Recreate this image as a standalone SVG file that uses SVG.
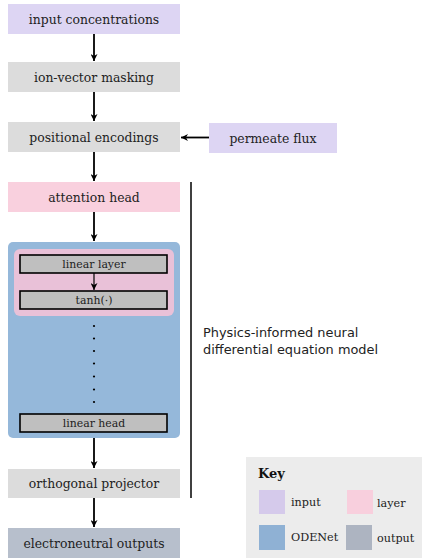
<svg xmlns="http://www.w3.org/2000/svg" width="422" height="558" viewBox="0 0 422 558">
<defs>
<marker id="ah" viewBox="0 0 10 10" refX="10" refY="5" markerWidth="7" markerHeight="7" markerUnits="userSpaceOnUse" orient="auto">
<path d="M0,0 L10,5 L0,10 L3,5 z" fill="#000"/>
</marker>
<style>
.t{font-family:"DejaVu Serif","Liberation Serif",serif;font-size:12.4px;fill:#222;text-anchor:middle}
.s{font-family:"DejaVu Serif","Liberation Serif",serif;font-size:10.9px;fill:#222;text-anchor:middle}
.k{font-family:"DejaVu Serif","Liberation Serif",serif;font-size:11.2px;fill:#222}
.c{stroke:#000;stroke-width:1.8;fill:none;marker-end:url(#ah)}
.in{fill:#ddd5f3}
.gr{fill:#dcdcdc}
.pk{fill:#f9d0de}
.ot{fill:#b7bfcc}
.ib{fill:#bfbfbf;stroke:#000;stroke-width:1.6}
</style>
</defs>
<rect width="422" height="558" fill="#fff"/>
<g id="input-concentrations"><rect class="in" x="8" y="4" width="172" height="30"/><text class="t" x="94" y="23.5">input concentrations</text></g>
<g id="ion-vector-masking"><rect class="gr" x="8" y="62" width="172" height="30"/><text class="t" x="94" y="81.5">ion-vector masking</text></g>
<g id="positional-encodings"><rect class="gr" x="8" y="122" width="172" height="30"/><text class="t" x="94" y="141.5">positional encodings</text></g>
<g id="permeate-flux"><rect class="in" x="209" y="123" width="128" height="30"/><text class="t" x="273" y="142.5">permeate flux</text></g>
<g id="attention-head"><rect class="pk" x="8" y="182" width="172" height="30"/><text class="t" x="94" y="201.5">attention head</text></g>
<g id="odenet">
<rect x="8" y="242" width="172" height="196" rx="5" fill="#95b8da"/>
<rect x="14" y="249" width="160" height="67" rx="6" fill="#e9c1d8"/>
<g id="linear-layer"><rect class="ib" x="20" y="255" width="147" height="18"/><text class="s" x="94" y="268">linear layer</text></g>
<g id="tanh"><rect class="ib" x="20" y="291" width="147" height="18"/><text class="s" x="94" y="304">tanh(·)</text></g>
<g fill="#000"><circle cx="94" cy="326" r="1.1"/><circle cx="94" cy="338.5" r="1.1"/><circle cx="94" cy="351" r="1.1"/><circle cx="94" cy="363.5" r="1.1"/><circle cx="94" cy="376.5" r="1.1"/><circle cx="94" cy="389.5" r="1.1"/><circle cx="94" cy="402" r="1.1"/></g>
<g id="linear-head"><rect class="ib" x="20" y="414" width="147" height="18"/><text class="s" x="94" y="427">linear head</text></g>
</g>
<g id="orthogonal-projector"><rect class="gr" x="8" y="469" width="172" height="29"/><text class="t" x="94" y="488">orthogonal projector</text></g>
<g id="electroneutral-outputs"><rect class="ot" x="8" y="528" width="172" height="30"/><text class="t" x="94" y="547.5">electroneutral outputs</text></g>
<g id="pinde-label">
<line x1="191" y1="182" x2="191" y2="498" stroke="#000" stroke-width="1.5"/>
<text font-family="DejaVu Sans, Liberation Sans, sans-serif" font-size="12.9" fill="#222"><tspan x="203" y="337">Physics-informed neural</tspan><tspan x="203" y="354">differential equation model</tspan></text>
</g>
<g id="connectors">
<line class="c" x1="94" y1="34" x2="94" y2="61"/>
<line class="c" x1="94" y1="92" x2="94" y2="121"/>
<line class="c" x1="94" y1="152" x2="94" y2="181"/>
<line class="c" x1="209" y1="137.5" x2="181" y2="137.5"/>
<line class="c" x1="94" y1="212" x2="94" y2="241"/>
<line x1="94" y1="273" x2="94" y2="290" stroke="#000" stroke-width="1.2" marker-end="url(#ah)"/>
<line class="c" x1="94" y1="438" x2="94" y2="468"/>
<line class="c" x1="94" y1="498" x2="94" y2="527"/>
</g>
<g id="key">
<rect x="246" y="457" width="176" height="101" fill="#ececec"/>
<text x="258" y="478" font-family="DejaVu Serif, Liberation Serif, serif" font-size="13" font-weight="bold" fill="#111">Key</text>
<rect x="259" y="490" width="26" height="24" fill="#d5caeb"/>
<text class="k" x="291" y="506">input</text>
<rect x="347" y="490" width="26" height="24" fill="#f8cfdd"/>
<text class="k" x="377" y="507">layer</text>
<rect x="259" y="525" width="26" height="25" fill="#8fb1d4"/>
<text class="k" x="291" y="541">ODENet</text>
<rect x="346" y="525" width="26" height="25" fill="#adb4c1"/>
<text class="k" x="377" y="542">output</text>
</g>
</svg>
